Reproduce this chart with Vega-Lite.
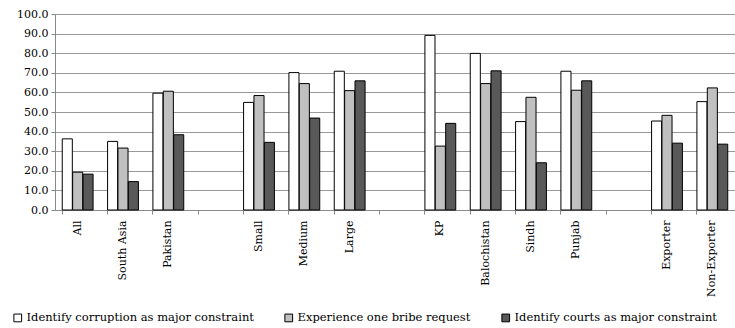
{
  "$schema": "https://vega.github.io/schema/vega-lite/v6.json",
  "width": 680,
  "height": 196,
  "autosize": {"type": "none"},
  "padding": {"left": 55, "top": 14, "right": 0, "bottom": 118},
  "background": "white",
  "config": {
    "view": {"stroke": null},
    "font": "DejaVu Serif",
    "axis": {"labelFont": "DejaVu Serif", "labelColor": "#000", "labelFontSize": 11}
  },
  "data": {
    "values": [
      {"category": "All", "series": "Identify corruption as major constraint", "value": 36.3},
      {"category": "All", "series": "Experience one bribe request", "value": 19.3},
      {"category": "All", "series": "Identify courts as major constraint", "value": 18.3},
      {"category": "South Asia", "series": "Identify corruption as major constraint", "value": 35.0},
      {"category": "South Asia", "series": "Experience one bribe request", "value": 31.6},
      {"category": "South Asia", "series": "Identify courts as major constraint", "value": 14.5},
      {"category": "Pakistan", "series": "Identify corruption as major constraint", "value": 59.6},
      {"category": "Pakistan", "series": "Experience one bribe request", "value": 60.6},
      {"category": "Pakistan", "series": "Identify courts as major constraint", "value": 38.4},
      {"category": "Small", "series": "Identify corruption as major constraint", "value": 54.9},
      {"category": "Small", "series": "Experience one bribe request", "value": 58.4},
      {"category": "Small", "series": "Identify courts as major constraint", "value": 34.5},
      {"category": "Medium", "series": "Identify corruption as major constraint", "value": 70.1},
      {"category": "Medium", "series": "Experience one bribe request", "value": 64.5},
      {"category": "Medium", "series": "Identify courts as major constraint", "value": 46.9},
      {"category": "Large", "series": "Identify corruption as major constraint", "value": 70.8},
      {"category": "Large", "series": "Experience one bribe request", "value": 60.9},
      {"category": "Large", "series": "Identify courts as major constraint", "value": 65.9},
      {"category": "KP", "series": "Identify corruption as major constraint", "value": 89.1},
      {"category": "KP", "series": "Experience one bribe request", "value": 32.6},
      {"category": "KP", "series": "Identify courts as major constraint", "value": 44.2},
      {"category": "Balochistan", "series": "Identify corruption as major constraint", "value": 79.9},
      {"category": "Balochistan", "series": "Experience one bribe request", "value": 64.5},
      {"category": "Balochistan", "series": "Identify courts as major constraint", "value": 71.0},
      {"category": "Sindh", "series": "Identify corruption as major constraint", "value": 45.1},
      {"category": "Sindh", "series": "Experience one bribe request", "value": 57.5},
      {"category": "Sindh", "series": "Identify courts as major constraint", "value": 24.1},
      {"category": "Punjab", "series": "Identify corruption as major constraint", "value": 70.8},
      {"category": "Punjab", "series": "Experience one bribe request", "value": 61.1},
      {"category": "Punjab", "series": "Identify courts as major constraint", "value": 65.9},
      {"category": "Exporter", "series": "Identify corruption as major constraint", "value": 45.4},
      {"category": "Exporter", "series": "Experience one bribe request", "value": 48.3},
      {"category": "Exporter", "series": "Identify courts as major constraint", "value": 34.1},
      {"category": "Non-Exporter", "series": "Identify corruption as major constraint", "value": 55.3},
      {"category": "Non-Exporter", "series": "Experience one bribe request", "value": 62.3},
      {"category": "Non-Exporter", "series": "Identify courts as major constraint", "value": 33.6}
    ]
  },
  "mark": {"type": "bar", "stroke": "#000", "strokeWidth": 1},
  "encoding": {
    "x": {
      "field": "category",
      "type": "nominal",
      "sort": null,
      "scale": {
        "domain": ["All", "South Asia", "Pakistan", " ", "Small", "Medium", "Large", "  ", "KP", "Balochistan", "Sindh", "Punjab", "   ", "Exporter", "Non-Exporter"],
        "paddingInner": 0.32,
        "paddingOuter": 0.16
      },
      "axis": {
        "title": null,
        "labelAngle": -90,
        "labelAlign": "right",
        "labelBaseline": "middle",
        "labelPadding": 6,
        "bandPosition": 0,
        "domainColor": "#888",
        "tickColor": "#888",
        "tickSize": 4,
        "grid": false
      }
    },
    "xOffset": {
      "field": "series",
      "type": "nominal",
      "sort": ["Identify corruption as major constraint", "Experience one bribe request", "Identify courts as major constraint"],
      "scale": {"paddingInner": 0.03}
    },
    "y": {
      "field": "value",
      "type": "quantitative",
      "scale": {"domain": [0, 100], "nice": false},
      "axis": {
        "title": null,
        "values": [0, 10, 20, 30, 40, 50, 60, 70, 80, 90, 100],
        "format": ".1f",
        "grid": true,
        "gridColor": "#999",
        "gridWidth": 1,
        "domainColor": "#888",
        "tickColor": "#888",
        "tickSize": 4,
        "labelPadding": 3
      }
    },
    "fill": {
      "field": "series",
      "type": "nominal",
      "sort": ["Identify corruption as major constraint", "Experience one bribe request", "Identify courts as major constraint"],
      "scale": {
        "domain": ["Identify corruption as major constraint", "Experience one bribe request", "Identify courts as major constraint"],
        "range": ["#ffffff", "#c0c0c0", "#595959"]
      },
      "legend": {
        "title": null,
        "orient": "none",
        "direction": "horizontal",
        "legendX": -43,
        "legendY": 298,
        "symbolType": "square",
        "symbolSize": 60,
        "symbolStrokeColor": "#000",
        "symbolStrokeWidth": 1,
        "labelFont": "DejaVu Serif",
        "labelFontSize": 11.5,
        "labelColor": "#000",
        "labelLimit": 0,
        "columnPadding": 28,
        "labelOffset": 3
      }
    }
  }
}
